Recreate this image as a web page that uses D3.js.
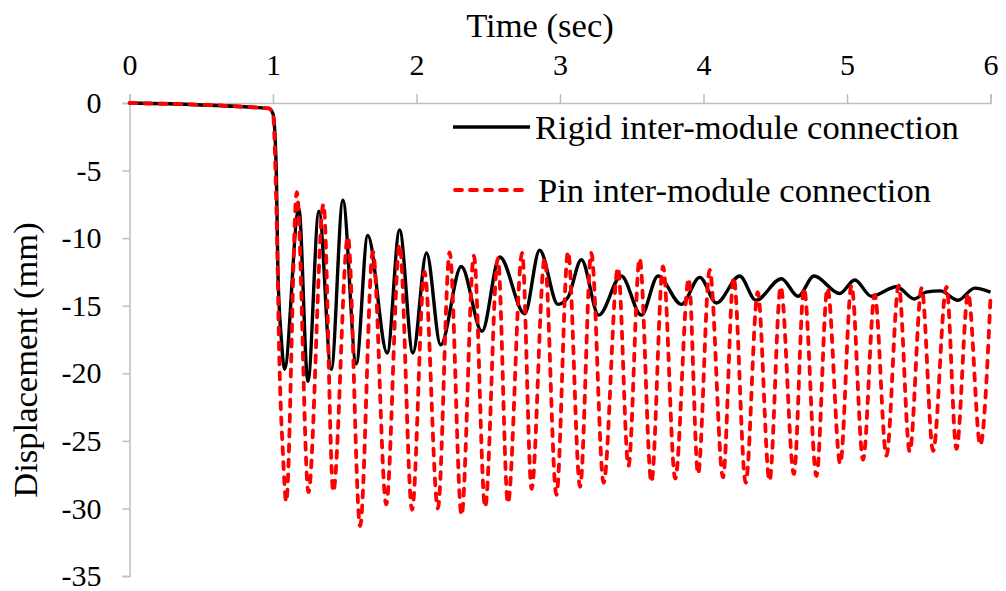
<!DOCTYPE html>
<html>
<head>
<meta charset="utf-8">
<script src="https://cdn.jsdelivr.net/npm/d3@7"></script>
<style>
  html, body { margin: 0; padding: 0; background: #fff; }
  svg { display: block; }
  text { font-family: "Liberation Serif", "Times New Roman", serif; fill: #000; }
</style>
</head>
<body>
<svg id="chart" width="1006" height="591"></svg>
<script>
// ---- Data ----
const xTicks = [0, 1, 2, 3, 4, 5, 6];
const yTicks = [0, -5, -10, -15, -20, -25, -30, -35];

const rigidTime = [0, 0.97, 1.0, 1.023, 1.034, 1.057, 1.08, 1.18, 1.243, 1.32, 1.406, 1.487, 1.58, 1.66,
  1.796, 1.882, 1.975, 2.07, 2.168, 2.312, 2.456, 2.58, 2.754, 2.858, 2.986, 3.055, 3.149, 3.27, 3.427,
  3.567, 3.683, 3.846, 3.974, 4.09, 4.252, 4.365, 4.543, 4.659, 4.77, 4.949, 5.054, 5.17, 5.345, 5.47,
  5.55, 5.65, 5.774, 5.89, 6.0];
const rigidDisp = [0, -0.4, -0.8, -5.0, -12.4, -17.3, -19.7, -7.8, -20.6, -8.0, -19.7, -7.2, -19.3, -9.8,
  -18.5, -9.4, -18.5, -11.1, -17.9, -12.1, -16.9, -11.4, -15.6, -10.9, -14.9, -14.4, -11.6, -15.7, -12.8,
  -15.7, -12.8, -14.9, -12.9, -14.8, -12.8, -14.6, -13.0, -14.3, -12.8, -14.1, -13.1, -14.3, -13.6, -14.5,
  -14.0, -13.9, -14.6, -13.7, -14.0];

const pinTime = [0, 0.97, 1.0, 1.023, 1.046, 1.069, 1.092, 1.166, 1.247, 1.352, 1.42, 1.522, 1.607, 1.696,
  1.789, 1.882, 1.969, 2.056, 2.149, 2.231, 2.314, 2.40, 2.478, 2.567, 2.637, 2.736, 2.802, 2.893, 2.975,
  3.056, 3.14, 3.218, 3.304, 3.404, 3.477, 3.555, 3.637, 3.718, 3.803, 3.897, 3.962, 4.043, 4.136, 4.21,
  4.294, 4.378, 4.46, 4.538, 4.63, 4.70, 4.787, 4.864, 4.953, 5.031, 5.112, 5.193, 5.275, 5.36, 5.437,
  5.52, 5.6, 5.693, 5.763, 5.844, 5.929, 6.0];
const pinDisp = [0, -0.4, -0.8, -7.4, -19.7, -25.9, -29.5, -6.6, -28.8, -7.5, -28.75, -9.9, -31.3, -11.0,
  -29.7, -10.5, -30.1, -12.5, -30.0, -11.05, -30.5, -11.3, -29.9, -11.5, -29.6, -11.1, -28.55, -11.5, -29.0,
  -11.0, -28.4, -11.1, -28.1, -12.2, -26.85, -11.5, -28.05, -12.1, -27.8, -13.0, -27.45, -12.35, -27.7, -12.9,
  -28.1, -14.0, -27.95, -13.6, -27.45, -13.7, -27.6, -13.7, -26.7, -13.5, -26.4, -14.2, -26.1, -13.5, -25.8,
  -13.7, -25.75, -13.6, -25.6, -14.1, -25.3, -14.4];

const seriesNames = ["Rigid inter-module connection", "Pin inter-module connection"];

// ---- Layout ----
const svg = d3.select("#chart");
const x = d3.scaleLinear().domain([0, 6]).range([129.5, 990.5]);
const y = d3.scaleLinear().domain([0, -35]).range([103, 576]);
const axisColor = "#bfbfbf";
const fontMain = 34.6;
const fontTick = 30;

// x axis on top
const gx = svg.append("g")
  .attr("transform", `translate(0,${y(0)})`)
  .call(d3.axisTop(x).tickValues(xTicks).tickSize(9).tickPadding(19).tickFormat(d => String(d)));
gx.select(".domain").attr("stroke", axisColor).attr("stroke-width", 1.5);
gx.selectAll(".tick line").attr("stroke", axisColor).attr("stroke-width", 1.5);
gx.selectAll(".tick text").attr("font-size", fontTick).attr("font-family", "Liberation Serif, serif").attr("fill", "#000");

// y axis on left
const gy = svg.append("g")
  .attr("transform", `translate(${x(0)},0)`)
  .call(d3.axisLeft(y).tickValues(yTicks).tickSize(7).tickPadding(21).tickFormat(d => String(d)));
gy.select(".domain").attr("stroke", axisColor).attr("stroke-width", 1.5);
gy.selectAll(".tick line").attr("stroke", axisColor).attr("stroke-width", 1.5);
gy.selectAll(".tick text").attr("font-size", fontTick).attr("font-family", "Liberation Serif, serif").attr("fill", "#000");

// axis titles
svg.append("text")
  .attr("x", 540).attr("y", 37)
  .attr("text-anchor", "middle")
  .attr("font-size", fontMain)
  .text("Time (sec)");

svg.append("text")
  .attr("transform", "translate(37,360) rotate(-90)")
  .attr("text-anchor", "middle")
  .attr("font-size", fontMain)
  .text("Displacement (mm)");

// ---- Lines ----
const line = d3.line()
  .x(d => x(d[0]))
  .y(d => y(d[1]))
  .curve(d3.curveMonotoneX);

const rigidData = rigidTime.map((t, i) => [t, rigidDisp[i]]);
const pinData = pinTime.map((t, i) => [t, pinDisp[i]]);

svg.append("path")
  .datum(rigidData)
  .attr("fill", "none")
  .attr("stroke", "#000")
  .attr("stroke-width", 3.4)
  .attr("stroke-linejoin", "round")
  .attr("d", line);

svg.append("path")
  .datum(pinData)
  .attr("fill", "none")
  .attr("stroke", "#ff0000")
  .attr("stroke-width", 3.8)
  .attr("stroke-linecap", "round")
  .attr("stroke-dasharray", "7,8")
  .attr("d", line);

// ---- Legend ----
const legend = svg.append("g");
legend.append("line")
  .attr("x1", 453).attr("x2", 530).attr("y1", 127).attr("y2", 127)
  .attr("stroke", "#000").attr("stroke-width", 3.4);
legend.append("text")
  .attr("x", 535).attr("y", 139)
  .attr("font-size", fontMain)
  .text(seriesNames[0]);

legend.append("line")
  .attr("x1", 455).attr("x2", 530).attr("y1", 190).attr("y2", 190)
  .attr("stroke", "#ff0000").attr("stroke-width", 3.8)
  .attr("stroke-linecap", "round")
  .attr("stroke-dasharray", "7,8");
legend.append("text")
  .attr("x", 538).attr("y", 202)
  .attr("font-size", fontMain)
  .text(seriesNames[1]);
</script>
</body>
</html>
